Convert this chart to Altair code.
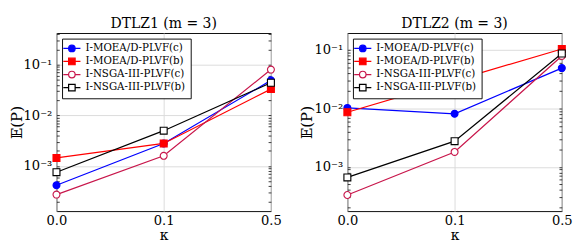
import altair as alt
import pandas as pd

# ---------------- data ----------------
kappa_labels = ["0.0", "0.1", "0.5"]
kappa_index = [0, 1, 2]
series_names = ["I-MOEA/D-PLVF(c)", "I-MOEA/D-PLVF(b)", "I-NSGA-III-PLVF(c)", "I-NSGA-III-PLVF(b)"]
series_colors = ["#0000ff", "#ff0000", "#c8164b", "#000000"]
series_fills = ["#0000ff", "#ff0000", "#ffffff", "#ffffff"]
series_shapes = ["circle", "square", "circle", "square"]

dtlz1_moead_c = [4.2e-4, 2.8e-3, 4.9e-2]
dtlz1_moead_b = [1.45e-3, 2.8e-3, 3.3e-2]
dtlz1_nsga_c = [2.75e-4, 1.6e-3, 8.0e-2]
dtlz1_nsga_b = [7.6e-4, 5.0e-3, 4.4e-2]

dtlz2_moead_c = [1.02e-2, 8.1e-3, 4.9e-2]
dtlz2_moead_b = [8.6e-3, 3.0e-2, 1.04e-1]
dtlz2_nsga_c = [3.3e-4, 1.8e-3, 7.9e-2]
dtlz2_nsga_b = [6.6e-4, 2.75e-3, 8.7e-2]

panel_titles = ["DTLZ1 (m = 3)", "DTLZ2 (m = 3)"]
dtlz1_domain = [1.3e-4, 0.42]
dtlz2_domain = [1.75e-4, 0.195]

y_tick_values = [1e-3, 1e-2, 1e-1]
y_tick_labels = ["10⁻³", "10⁻²", "10⁻¹"]

# legend symbol paths (line + marker)
circle_path = ("M-2.3,0H-0.875M0.875,0H2.3M-0.875,0A0.875,0.875,0,1,1,0.875,0"
               "A0.875,0.875,0,1,1,-0.875,0Z")
square_path = "M-2.3,0H-0.875M0.875,0H2.3M-0.875,-0.875H0.875V0.875H-0.875Z"
legend_paths = [circle_path, square_path, circle_path, square_path]

SERIF = "DejaVu Serif"


def js_list(items):
    return "[" + ",".join("'" + s + "'" for s in items) + "]"


def num_list(items):
    return "[" + ",".join(repr(v) for v in items) + "]"


def make_df(rows):
    recs = []
    for name, vals in zip(series_names, rows):
        for i, v in zip(kappa_index, vals):
            recs.append({"k": i, "value": v, "series": name})
    return pd.DataFrame(recs)


def minor_ticks(domain):
    out = []
    for e in range(-5, 1):
        for m in range(2, 10):
            v = m * 10.0 ** e
            if domain[0] <= v <= domain[1]:
                out.append(v)
    return sorted(out + [d for d in y_tick_values if domain[0] <= d <= domain[1]])


major_test = "indexof(" + num_list(y_tick_values) + ", datum.value) >= 0"
label_expr = ("(" + js_list(y_tick_labels) + ")[indexof(" + num_list(y_tick_values)
              + ", datum.value)] || ''")
x_label_expr = js_list(kappa_labels) + "[datum.value]"


def make_panel(title, rows, domain):
    df = make_df(rows)
    ticks = minor_ticks(domain)
    yscale = alt.Scale(type="log", domain=domain, nice=False, zero=False)
    xscale = alt.Scale(domain=[0, 2], nice=False, zero=False)
    stroke_scale = alt.Scale(domain=series_names, range=series_colors)
    fill_scale = alt.Scale(domain=series_names, range=series_fills)

    left_axis = alt.Axis(
        values=ticks, labelExpr=label_expr, title="𝔼(P)",
        grid=True, gridColor="#d9d9d9",
        gridOpacity={"condition": {"test": major_test, "value": 1}, "value": 0},
        domain=False, tickSize=3, tickColor="black", tickWidth=0.8,
        offset=-3, labelPadding=5, titleX=-38, titleFontSize=16,
        labelFlush=False, labelFontSize=14,
    )
    right_axis = alt.Axis(
        values=ticks, labels=False, title=None, grid=False, orient="right",
        domain=False, tickSize=3, tickColor="black", tickWidth=0.8, offset=-3,
    )
    bottom_axis = alt.Axis(
        values=kappa_index, labelExpr=x_label_expr, title="κ",
        grid=True, gridColor="#d9d9d9", domain=False, ticks=False,
        labelFlush=False, labelPadding=3, labelFontSize=14, titlePadding=2,
        titleFontSize=15,
    )

    lines = alt.Chart(df).mark_line(strokeWidth=1.3).encode(
        x=alt.X("k:Q", scale=xscale, axis=bottom_axis),
        y=alt.Y("value:Q", scale=yscale, axis=left_axis),
        color=alt.Color("series:N", scale=stroke_scale, legend=None),
    )
    points = alt.Chart(df).mark_point(size=55, strokeWidth=1.2, opacity=1).encode(
        x=alt.X("k:Q", scale=xscale, axis=None),
        y=alt.Y("value:Q", scale=yscale, axis=None),
        stroke=alt.Stroke("series:N", scale=stroke_scale, legend=None),
        fill=alt.Fill("series:N", scale=fill_scale, legend=None),
        shape=alt.Shape("series:N", scale=alt.Scale(domain=series_names, range=series_shapes), legend=None),
    )
    right = alt.Chart(df).mark_point(opacity=0).encode(
        x=alt.X("k:Q", scale=xscale, axis=None),
        y=alt.Y("value:Q", scale=yscale, axis=right_axis),
    )
    leg = alt.Legend(
        title=None, orient="top-left", offset=6,
        fillColor="white", strokeColor="black", padding=5,
        labelFont=SERIF, labelFontSize=11, labelColor="black",
        labelOffset=9, symbolSize=64, symbolStrokeWidth=1.3,
        rowPadding=1, labelLimit=300, symbolOpacity=1,
    )
    legend_layer = alt.Chart(df).transform_filter("false").mark_point(
        strokeWidth=1.3, opacity=1
    ).encode(
        x=alt.X("k:Q", scale=xscale, axis=None),
        y=alt.Y("value:Q", scale=yscale, axis=None),
        stroke=alt.Stroke("series:N", scale=stroke_scale, legend=leg),
        fill=alt.Fill("series:N", scale=fill_scale, legend=leg),
        shape=alt.Shape("series:N", scale=alt.Scale(domain=series_names, range=legend_paths), legend=leg),
    )
    return alt.layer(lines, points, right, legend_layer).resolve_axis(
        y="independent", x="independent"
    ).resolve_scale(shape="independent", stroke="independent", fill="independent").properties(
        width=230, height=191,
        title=alt.TitleParams(title, font=SERIF, fontSize=15, fontWeight="normal", offset=2),
    )


p1 = make_panel(panel_titles[0], [dtlz1_moead_c, dtlz1_moead_b, dtlz1_nsga_c, dtlz1_nsga_b], dtlz1_domain)
p2 = make_panel(panel_titles[1], [dtlz2_moead_c, dtlz2_moead_b, dtlz2_nsga_c, dtlz2_nsga_b], dtlz2_domain)

chart = alt.hconcat(p1, p2, spacing=18).resolve_scale(
    color="independent", stroke="independent", fill="independent", shape="independent",
    x="independent", y="independent",
).resolve_legend(stroke="independent", fill="independent", shape="independent").properties(
    padding=0
).configure_view(
    stroke="black", strokeWidth=1
).configure_axis(
    labelFont=SERIF, titleFont=SERIF, labelColor="black", titleColor="black",
    titleFontWeight="normal",
).configure_title(anchor="middle", color="black", font=SERIF, fontWeight="normal")

chart.save("out.html", embed_options={"renderer": "svg", "actions": False})
